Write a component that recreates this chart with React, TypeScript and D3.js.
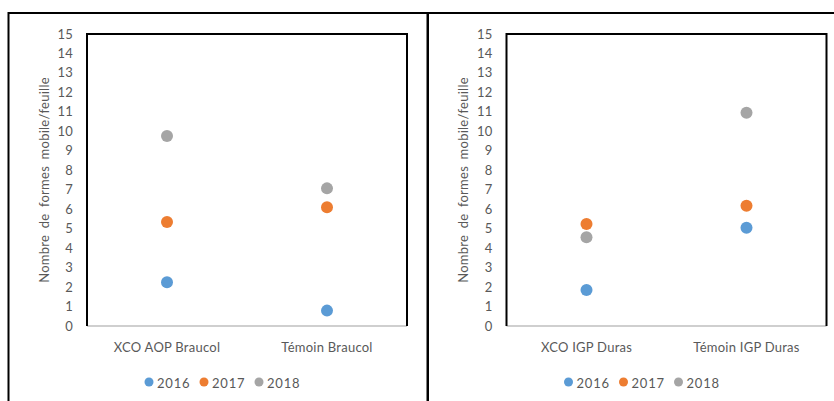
import * as d3 from "d3";
import React from "react";

const years = ["2016", "2017", "2018"];
const colors = ["#5B9BD5", "#ED7D31", "#A5A5A5"];
const yTicks = d3.range(0, 16);

const leftCategories = ["XCO AOP Braucol", "Témoin Braucol"];
const leftValues2016 = [2.25, 0.79];
const leftValues2017 = [5.34, 6.1];
const leftValues2018 = [9.76, 7.07];

const rightCategories = ["XCO IGP Duras", "Témoin IGP Duras"];
const rightValues2016 = [1.85, 5.05];
const rightValues2017 = [5.24, 6.18];
const rightValues2018 = [4.56, 10.96];

const yTitle = "Nombre de formes mobile/feuille";
const font = "Lato, sans-serif";

interface IPanel {
    x0: number;
    frameWidth: number;
    plotLeft: number;
    plotRight: number;
    categories: string[];
    series: number[][];
}

function Panel(props: IPanel) {
    const { x0, frameWidth, plotLeft, plotRight, categories, series } = props;
    const top = 34;
    const bottom = 326;

    const x = d3.scaleBand().domain(categories).range([plotLeft, plotRight]);
    const y = d3.scaleLinear().domain([0, 15]).range([bottom, top]);

    const legendCenter = x0 + frameWidth / 2;
    const legendStep = 55;
    const textStyle = { fontSize: 13, fill: "#595959", fontFamily: font, letterSpacing: 0.25 };

    return (
        <g>
            {/* cadre du graphique */}
            <rect x={x0} y={13} width={frameWidth} height={420} fill="white" stroke="black" strokeWidth={2} />

            {/* zone de tracé */}
            <line x1={plotLeft} x2={plotRight} y1={bottom} y2={bottom} stroke="#BFBFBF" strokeWidth={1.5} />
            <path d={`M${plotLeft},${bottom}V${top}H${plotRight}V${bottom}`} fill="none" stroke="black" strokeWidth={2} />

            {yTicks.map(t => (
                <text key={t} x={plotLeft - 14} y={y(t)} dy="0.35em" textAnchor="end" style={textStyle}>
                    {t}
                </text>
            ))}

            <text
                transform={`translate(${plotLeft - 43},${(top + bottom) / 2}) rotate(-90)`}
                textAnchor="middle"
                dy="0.35em"
                style={{ ...textStyle, wordSpacing: 3 }}
            >
                {yTitle}
            </text>

            {categories.map(c => (
                <text key={c} x={(x(c) ?? 0) + x.bandwidth() / 2} y={347} dy="0.35em" textAnchor="middle" style={textStyle}>
                    {c}
                </text>
            ))}

            {series.map((values, si) => (
                <g key={si} fill={colors[si]}>
                    {values.map((v, i) => (
                        <circle key={i} cx={(x(categories[i]) ?? 0) + x.bandwidth() / 2} cy={y(v)} r={6} />
                    ))}
                </g>
            ))}

            {/* légende */}
            {years.map((yr, i) => {
                const lx = legendCenter - legendStep * 1.5 + 13.5 + i * legendStep;
                return (
                    <g key={yr}>
                        <circle cx={lx} cy={382} r={4.5} fill={colors[i]} />
                        <text x={lx + 8} y={383} dy="0.35em" style={{ ...textStyle, letterSpacing: 0.8 }}>
                            {yr}
                        </text>
                    </g>
                );
            })}
        </g>
    );
}

export default function App() {
    return (
        <svg width={834} height={401} style={{ position: "absolute", left: 0, top: 0, background: "white" }}>
            <Panel
                x0={8.5}
                frameWidth={419}
                plotLeft={87}
                plotRight={407}
                categories={leftCategories}
                series={[leftValues2016, leftValues2017, leftValues2018]}
            />
            <Panel
                x0={428}
                frameWidth={419}
                plotLeft={506.5}
                plotRight={826.5}
                categories={rightCategories}
                series={[rightValues2016, rightValues2017, rightValues2018]}
            />
        </svg>
    );
}
